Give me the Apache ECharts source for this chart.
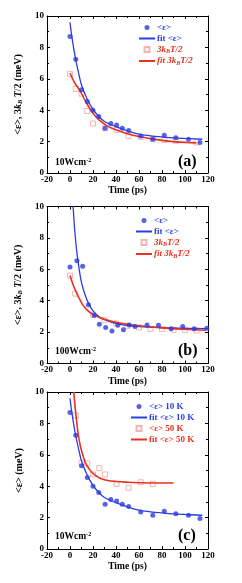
<!DOCTYPE html>
<html>
<head>
<meta charset="utf-8">
<script src="https://cdn.jsdelivr.net/npm/echarts@6/dist/echarts.min.js"></script>
<style>html,body{margin:0;padding:0;background:#fff;}#c{width:242px;height:583px;}</style>
</head>
<body>
<div id="c"></div>
<script>
// ---- data ----
const xTicks = [-20, 0, 20, 40, 60, 80, 100, 120];
const yTicks = [0, 2, 4, 6, 8, 10];

// panel (a) and (c): 10 Wcm-2, 10 K
const tE10 = [0, 5, 10, 15, 20, 25, 30.5, 35.5, 40.5, 45.5, 51, 61.5, 72, 82, 92, 103, 113];
const vE10 = [8.7, 7.25, 5.3, 4.55, 4.0, 3.6, 2.85, 3.15, 3.05, 2.85, 2.7, 2.35, 2.15, 2.4, 2.25, 2.15, 1.95];
const tFitE10 = [0, 2, 5, 8, 10, 15, 20, 25, 30, 40, 50, 60, 70, 80, 90, 100, 115];
const vFitE10 = [9.6, 8.5, 7.2, 6.2, 5.6, 4.7, 4.05, 3.6, 3.28, 2.95, 2.68, 2.47, 2.37, 2.3, 2.24, 2.2, 2.15];
const tKT_a = [0, 5, 10, 15, 20, 30.5, 40.5, 51, 61.5, 72, 82, 92, 110];
const vKT_a = [6.3, 5.35, 5.05, 3.95, 3.15, 2.85, 2.75, 2.35, 2.3, 2.15, 2.1, 2.05, 1.95];
const tFitKT_a = [0, 4, 8.6, 14.4, 20, 25, 32, 40, 50, 60, 70, 80, 90, 100, 110];
const vFitKT_a = [6.35, 5.75, 5.25, 4.45, 3.8, 3.4, 3.02, 2.75, 2.5, 2.32, 2.19, 2.08, 2.0, 1.95, 1.92];

// panel (b): 100 Wcm-2
const tE_b = [0, 6, 11, 16, 21, 25.5, 31, 36.5, 41.5, 46.5, 51.5, 56.5, 67, 77, 88, 98, 108, 119];
const vE_b = [6.15, 6.55, 6.2, 3.75, 3.05, 2.5, 2.3, 2.07, 2.43, 2.15, 2.45, 2.35, 2.45, 2.43, 2.22, 2.35, 2.22, 2.25];
const tFitE_b = [2.7, 4, 5.7, 8, 10, 13, 16, 20, 25, 30, 40, 50, 60, 80, 100, 120];
const vFitE_b = [10, 8.6, 7.25, 6.0, 5.15, 4.4, 3.85, 3.35, 3.0, 2.8, 2.55, 2.42, 2.35, 2.28, 2.24, 2.22];
const tKT_b = [0, 4.5, 20, 30, 40, 50, 60, 70, 80, 90, 100, 110];
const vKT_b = [5.6, 4.45, 3.1, 2.75, 2.55, 2.4, 2.3, 2.2, 2.2, 2.15, 2.15, 2.1];
const tFitKT_b = [0, 3, 6, 8.5, 11, 14.3, 20, 25, 30, 40, 50, 60, 80, 100, 118];
const vFitKT_b = [5.6, 4.95, 4.45, 4.08, 3.75, 3.45, 3.12, 2.95, 2.82, 2.62, 2.5, 2.4, 2.27, 2.18, 2.12];

// panel (c): 50 K
const tE50 = [5, 10, 15, 20, 25.5, 30.5, 40.5, 51, 61.5, 72];
const vE50 = [8.5, 5.5, 5.45, 4.75, 5.15, 4.75, 4.15, 3.9, 4.25, 4.15];
const tFitE50 = [3.3, 4.5, 5.5, 7, 9, 11.5, 14, 17.3, 21, 26, 32, 40, 50, 60, 75, 90];
const vFitE50 = [10, 9.0, 8.3, 7.4, 6.55, 5.9, 5.4, 5.04, 4.75, 4.51, 4.38, 4.3, 4.25, 4.22, 4.2, 4.2];

// ---- styling ----
const BLUE = '#2b3de0', RED = '#e8311f', PINK = '#f2a0a0';
const FONT = 'Liberation Serif';
const zip = (a, b) => a.map((x, i) => [x, b[i]]);

const gridTops = [16, 206.5, 392];
const grids = gridTops.map(t => ({left: 47, right: 34, top: t, height: 157}));

const tickBase = {show: true, inside: true, length: 3, lineStyle: {color: '#000', width: 1}};
const minorBase = {show: true, splitNumber: 2, length: 2, lineStyle: {color: '#000', width: 1}};
const lab = {fontFamily: FONT, fontWeight: 'bold', fontSize: 9, color: '#000'};

const xAxes = [], yAxes = [];
grids.forEach((g, i) => {
  xAxes.push({type: 'value', gridIndex: i, min: -20, max: 120, interval: 20, position: 'bottom',
    axisLine: {show: true, onZero: false, lineStyle: {color: '#000', width: 1}},
    axisTick: tickBase, minorTick: minorBase, splitLine: {show: false},
    axisLabel: Object.assign({margin: 2, formatter: v => xTicks.includes(v) ? String(v) : ''}, lab),
    name: 'Time (ps)', nameLocation: 'middle', nameGap: 13,
    nameTextStyle: {fontFamily: FONT, fontWeight: 'bold', fontSize: 9.5, color: '#000'}});
  xAxes.push({type: 'value', gridIndex: i, min: -20, max: 120, interval: 20, position: 'top',
    axisLine: {show: true, onZero: false, lineStyle: {color: '#000', width: 1}},
    axisTick: tickBase, minorTick: minorBase, splitLine: {show: false}, axisLabel: {show: false}});
  const yname = i < 2 ? '{n|<ε>, 3}{i|k}{s|B}{i| T}{n|/2 (meV)}' : '{n|<ε> (meV)}';
  yAxes.push({type: 'value', gridIndex: i, min: 0, max: 10, interval: 2, position: 'left',
    axisLine: {show: true, onZero: false, lineStyle: {color: '#000', width: 1}},
    axisTick: tickBase, minorTick: minorBase, splitLine: {show: false},
    axisLabel: Object.assign({margin: 3, formatter: v => yTicks.includes(v) ? String(v) : ''}, lab),
    name: yname, nameLocation: 'middle', nameGap: 10,
    nameTextStyle: {fontFamily: FONT, fontWeight: 'bold', fontSize: 10, color: '#000',
      rich: {
        n: {fontFamily: FONT, fontWeight: 'bold', fontSize: 10, color: '#000'},
        i: {fontFamily: FONT, fontWeight: 'bold', fontStyle: 'italic', fontSize: 10, color: '#000'},
        s: {fontFamily: FONT, fontWeight: 'bold', fontStyle: 'italic', fontSize: 6.5, color: '#000', verticalAlign: 'bottom', padding: [5, 0, 0, 0]}
      }}});
  yAxes.push({type: 'value', gridIndex: i, min: 0, max: 10, interval: 2, position: 'right',
    axisLine: {show: true, onZero: false, lineStyle: {color: '#000', width: 1}},
    axisTick: tickBase, minorTick: minorBase, splitLine: {show: false}, axisLabel: {show: false}});
});

function dots(name, gi, t, v) {
  return {type: 'scatter', name, xAxisIndex: 2 * gi, yAxisIndex: 2 * gi, data: zip(t, v),
    symbol: 'circle', symbolSize: 5, itemStyle: {color: BLUE}, z: 4};
}
function squares(name, gi, t, v) {
  return {type: 'scatter', name, xAxisIndex: 2 * gi, yAxisIndex: 2 * gi, data: zip(t, v),
    symbol: 'rect', symbolSize: 5, itemStyle: {color: 'rgba(255,255,255,0)', borderColor: PINK, borderWidth: 1}, z: 2};
}
function fit(name, gi, t, v, color, w) {
  return {type: 'line', name, xAxisIndex: 2 * gi, yAxisIndex: 2 * gi, data: zip(t, v),
    symbol: 'none', smooth: 0.4, clip: true, lineStyle: {color, width: w}, itemStyle: {color}, z: 3};
}

const series = [
  squares('3kBT/2', 0, tKT_a, vKT_a),
  dots('<ε>', 0, tE10, vE10),
  fit('fit <ε>', 0, tFitE10, vFitE10, BLUE, 1.3),
  fit('fit 3kBT/2', 0, tFitKT_a, vFitKT_a, RED, 1.6),

  squares('3kBT/2', 1, tKT_b, vKT_b),
  dots('<ε>', 1, tE_b, vE_b),
  fit('fit <ε>', 1, tFitE_b, vFitE_b, BLUE, 1.3),
  fit('fit 3kBT/2', 1, tFitKT_b, vFitKT_b, RED, 1.6),

  squares('<ε> 50 K', 2, tE50, vE50),
  dots('<ε> 10 K', 2, tE10, vE10),
  fit('fit <ε> 10 K', 2, tFitE10, vFitE10, BLUE, 1.3),
  fit('fit <ε> 50 K', 2, tFitE50, vFitE50, RED, 1.6)
];

const legRich = {
  b: {fontFamily: FONT, fontWeight: 'bold', fontSize: 9, color: BLUE},
  r: {fontFamily: FONT, fontWeight: 'bold', fontSize: 9, color: RED},
  ri: {fontFamily: FONT, fontWeight: 'bold', fontStyle: 'italic', fontSize: 9, color: RED},
  rs: {fontFamily: FONT, fontWeight: 'bold', fontStyle: 'italic', fontSize: 6, color: RED, verticalAlign: 'bottom', padding: [4, 0, 0, 0]}
};
function legFmt(name) {
  if (name === '3kBT/2') return '{ri|3k}{rs|B}{ri|T/2}';
  if (name === 'fit 3kBT/2') return '{ri|fit 3k}{rs|B}{ri|T/2}';
  if (name.indexOf('50 K') >= 0) return '{r|' + name + '}';
  return '{b|' + name + '}';
}
const SQ = 'path://M0,0L10,0L10,10L0,10Z';
function legend(left, top, names) {
  // names: [dot, blue fit, square, red fit]
  const data = [
    {name: names[0], icon: 'circle'},
    {name: names[1], itemStyle: {opacity: 0}},
    {name: names[2], icon: SQ},
    {name: names[3], itemStyle: {opacity: 0}}
  ];
  return {left, top, orient: 'vertical', itemWidth: 16, itemHeight: 5, itemGap: 2, padding: 0,
    symbolKeepAspect: true, data, formatter: legFmt, selectedMode: false,
    textStyle: {fontFamily: FONT, fontWeight: 'bold', fontSize: 9, padding: [0, 0, 0, -3], rich: legRich}};
}

const option = {
  animation: false,
  grid: grids,
  xAxis: xAxes,
  yAxis: yAxes,
  series,
  legend: [
    legend(138, 23, ['<ε>', 'fit <ε>', '3kBT/2', 'fit 3kBT/2']),
    legend(135, 216, ['<ε>', 'fit <ε>', '3kBT/2', 'fit 3kBT/2']),
    legend(130, 402, ['<ε> 10 K', 'fit <ε> 10 K', '<ε> 50 K', 'fit <ε> 50 K'])
  ],
  graphic: [
    ['(a)', 163, '10'], ['(b)', 352, '100'], ['(c)', 537, '10']
  ].flatMap(([lbl, y, p]) => [
    {type: 'text', left: 178, top: y - 9, z: 10,
      style: {text: lbl, font: 'bold 16px "Liberation Serif"', fill: '#000'}},
    {type: 'text', left: 55, top: y - 6, z: 10,
      style: {text: '{m|' + p + 'Wcm}{u|-2}', rich: {
        m: {fontFamily: FONT, fontWeight: 'bold', fontSize: 9.5, fill: '#000', color: '#000'},
        u: {fontFamily: FONT, fontWeight: 'bold', fontSize: 6, fill: '#000', color: '#000', verticalAlign: 'top', padding: [0, 0, 5, 0]}
      }}}
  ])
};

const chart = echarts.init(document.getElementById('c'), null, {renderer: 'canvas'});
chart.setOption(option);
</script>
</body>
</html>
